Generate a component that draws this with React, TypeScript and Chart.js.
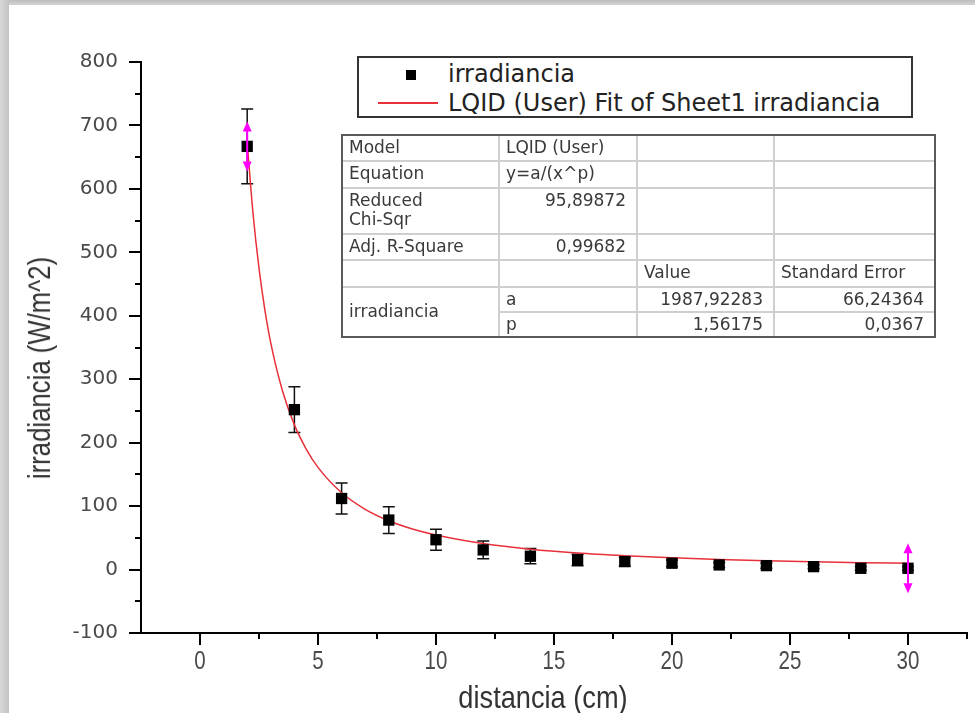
import React, { useEffect, useRef } from "react";
import { Chart, registerables } from "chart.js";
Chart.register(...registerables);

// ---- data ----
const distancia = [2, 4, 6, 8, 10, 12, 14, 16, 18, 20, 22, 24, 26, 28, 30];
const irradiancia = [667, 252, 112, 78, 47, 31, 21, 15, 12.5, 10, 7.3, 6.2, 4.6, 2, 2];
const errorIrradiancia = [59, 36, 24.5, 21, 16.5, 14, 12, 9, 7, 5, 4, 4, 3, 3, 3];
const fitDistancia = [2, 2.25, 2.5, 2.75, 3, 3.5, 4, 4.5, 5, 6, 7, 8, 9, 10, 12, 14, 16, 18, 20, 22, 24, 26, 28, 30];
const fitIrradiancia = [673, 560, 475, 409, 357, 281, 228, 190, 161, 121, 95, 77, 64, 54.5, 41, 32, 26, 21.8, 18.5, 15.9, 13.9, 12.3, 10.9, 9.8];
const xTickValues = [0, 5, 10, 15, 20, 25, 30];
const xTickLabels = ["0", "5", "10", "15", "20", "25", "30"];
const xMinorValues = [2.5, 7.5, 12.5, 17.5, 22.5, 27.5, 32.5];
const yMinorValues = [-50, 50, 150, 250, 350, 450, 550, 650, 750];
const markedDistancias = [2, 30];

const legendLabels = ["irradiancia", "LQID (User) Fit of Sheet1 irradiancia"];
const xTitle = "distancia (cm)";
const yTitle = "irradiancia (W/m^2)";

// table text
const tableCells = [
  { r: 0, c: 0, t: "Model", a: "left" },
  { r: 0, c: 1, t: "LQID (User)", a: "left" },
  { r: 1, c: 0, t: "Equation", a: "left" },
  { r: 1, c: 1, t: "y=a/(x^p)", a: "left" },
  { r: 2, c: 0, t: "Reduced\nChi-Sqr", a: "left" },
  { r: 2, c: 1, t: "95,89872", a: "right" },
  { r: 3, c: 0, t: "Adj. R-Square", a: "left" },
  { r: 3, c: 1, t: "0,99682", a: "right" },
  { r: 4, c: 2, t: "Value", a: "left" },
  { r: 4, c: 3, t: "Standard Error", a: "left" },
  { r: 5, c: 0, t: "irradiancia", a: "left", span: 2 },
  { r: 5, c: 1, t: "a", a: "left" },
  { r: 5, c: 2, t: "1987,92283", a: "right" },
  { r: 5, c: 3, t: "66,24364", a: "right" },
  { r: 6, c: 1, t: "p", a: "left" },
  { r: 6, c: 2, t: "1,56175", a: "right" },
  { r: 6, c: 3, t: "0,0367", a: "right" },
];
const colEdges = [342, 499, 637, 774, 935];
const rowEdges = [135, 161, 187.7, 234, 260, 286.7, 311.7, 336.7];

const ARIAL = "'Liberation Sans', Arial, sans-serif";
const WIDE = "'DejaVu Sans', 'Liberation Sans', Arial, sans-serif";
const RED = "#e8303a";

const errorBarsPlugin = {
  id: "errorBars",
  beforeDatasetsDraw(chart: any) {
    const { ctx, scales } = chart;
    const x = scales.x, y = scales.y;
    ctx.save();
    ctx.strokeStyle = "#111";
    ctx.lineWidth = 1.5;
    distancia.forEach((d, i) => {
      const px = x.getPixelForValue(d);
      const top = y.getPixelForValue(irradiancia[i] + errorIrradiancia[i]);
      const bot = y.getPixelForValue(irradiancia[i] - errorIrradiancia[i]);
      ctx.beginPath();
      ctx.moveTo(px, top); ctx.lineTo(px, bot);
      ctx.moveTo(px - 6, top); ctx.lineTo(px + 6, top);
      ctx.moveTo(px - 6, bot); ctx.lineTo(px + 6, bot);
      ctx.stroke();
    });
    ctx.restore();
  },
  afterDatasetsDraw(chart: any) {
    const { ctx, scales } = chart;
    const x = scales.x, y = scales.y;
    ctx.save();
    ctx.strokeStyle = "#ff00ff";
    ctx.fillStyle = "#ff00ff";
    ctx.lineWidth = 2;
    markedDistancias.forEach((d) => {
      const i = distancia.indexOf(d);
      const px = x.getPixelForValue(d);
      const py = y.getPixelForValue(irradiancia[i]);
      ctx.beginPath();
      ctx.moveTo(px, py - 16); ctx.lineTo(px, py + 16);
      ctx.stroke();
      ctx.beginPath();
      ctx.moveTo(px, py - 25); ctx.lineTo(px - 4.5, py - 15); ctx.lineTo(px + 4.5, py - 15); ctx.closePath();
      ctx.moveTo(px, py + 25); ctx.lineTo(px - 4.5, py + 15); ctx.lineTo(px + 4.5, py + 15); ctx.closePath();
      ctx.fill();
    });
    ctx.restore();
  },
  afterDraw(chart: any) {
    const { ctx, scales, chartArea } = chart;
    const x = scales.x, y = scales.y;
    ctx.save();
    ctx.strokeStyle = "#000";
    ctx.lineWidth = 2;
    ctx.beginPath();
    yMinorValues.forEach((v) => {
      const py = Math.round(y.getPixelForValue(v));
      ctx.moveTo(chartArea.left - 6, py); ctx.lineTo(chartArea.left, py);
    });
    xMinorValues.forEach((v) => {
      const px = Math.round(x.getPixelForValue(v));
      ctx.moveTo(px, chartArea.bottom); ctx.lineTo(px, chartArea.bottom + 6);
    });
    ctx.stroke();
    // narrow x tick labels
    ctx.fillStyle = "#4a4a4a";
    ctx.font = "25px " + ARIAL;
    ctx.textAlign = "center";
    ctx.textBaseline = "middle";
    xTickValues.forEach((v, i) => {
      const px = x.getPixelForValue(v);
      ctx.save();
      ctx.translate(px, chartArea.bottom + 29);
      ctx.scale(0.82, 1);
      ctx.fillText(xTickLabels[i], 0, 0);
      ctx.restore();
    });
    ctx.restore();
  },
};

function ChartCanvas() {
  const ref = useRef<HTMLCanvasElement | null>(null);
  useEffect(() => {
    if (!ref.current) return;
    const chart = new Chart(ref.current, {
      type: "scatter",
      data: {
        datasets: [
          {
            label: legendLabels[0],
            data: distancia.map((d, i) => ({ x: d, y: irradiancia[i] })),
            pointStyle: "rect",
            pointRadius: 8,
            backgroundColor: "#000",
            borderWidth: 0,
            order: 0,
          },
          {
            label: legendLabels[1],
            data: fitDistancia.map((d, i) => ({ x: d, y: fitIrradiancia[i] })),
            showLine: true,
            borderColor: RED,
            borderWidth: 1.5,
            pointRadius: 0,
            cubicInterpolationMode: "monotone",
            order: 1,
          } as any,
        ],
      },
      options: {
        animation: false,
        responsive: false,
        devicePixelRatio: 1,
        layout: { padding: { top: 62, right: 5, left: 0, bottom: 0 } },
        plugins: { legend: { display: false }, tooltip: { enabled: false } },
        scales: {
          x: {
            type: "linear",
            min: -2.5,
            max: 32.5,
            afterFit: (s: any) => { s.height = 80; },
            afterBuildTicks: (s: any) => { s.ticks = xTickValues.map((v) => ({ value: v })); },
            grid: { drawOnChartArea: false, drawTicks: true, tickLength: 12, color: "#000", lineWidth: 2 },
            border: { display: true, color: "#000", width: 2 },
            ticks: { display: false },
          },
          y: {
            type: "linear",
            min: -100,
            max: 800,
            afterFit: (s: any) => { s.width = 141; },
            grid: { drawOnChartArea: false, drawTicks: true, tickLength: 12, color: "#000", lineWidth: 2 },
            border: { display: true, color: "#000", width: 2 },
            ticks: { stepSize: 100, color: "#4a4a4a", font: { family: WIDE, size: 20 }, padding: 11 },
          },
        },
      },
      plugins: [errorBarsPlugin],
    });
    return () => chart.destroy();
  }, []);
  return <canvas ref={ref} width={975} height={713} style={{ position: "absolute", left: 0, top: 0, width: 975, height: 713 }} />;
}

function StatsTable() {
  const left = colEdges[0], top = rowEdges[0];
  const W = colEdges[4] - left, H = rowEdges[7] - top;
  const lines: any[] = [];
  rowEdges.slice(1, -1).forEach((ry, k) => {
    const rowIdx = k + 1;
    const startX = rowIdx === 6 ? colEdges[1] : left;
    lines.push(<div key={"h" + k} style={{ position: "absolute", left: startX - left, top: ry - top - 1, width: colEdges[4] - startX, height: 2, background: "#cfcfcf" }} />);
  });
  colEdges.slice(1, -1).forEach((cx, k) => {
    lines.push(<div key={"v" + k} style={{ position: "absolute", left: cx - left - 1, top: 0, width: 2, height: H, background: "#cfcfcf" }} />);
  });
  const cells = tableCells.map((c, k) => {
    const x0 = colEdges[c.c], x1 = colEdges[c.c + 1];
    const y0 = rowEdges[c.r], y1 = rowEdges[c.r + (c.span || 1)];
    const centered = !!c.span;
    return (
      <div key={"c" + k} style={{
        position: "absolute", left: x0 - left, top: y0 - top, width: x1 - x0, height: y1 - y0,
        boxSizing: "border-box", padding: c.a === "left" ? "3px 0 0 7px" : "3px 11px 0 0",
        textAlign: c.a as any, whiteSpace: "pre", lineHeight: "19px",
        display: centered ? "flex" : "block", alignItems: centered ? "center" : undefined,
        paddingTop: centered ? 0 : 3,
      }}>{c.t}</div>
    );
  });
  return (
    <div style={{ position: "absolute", left, top, width: W, height: H, boxSizing: "border-box",
      fontFamily: WIDE, fontSize: 17, color: "#3a3a3a" }}>
      {lines}
      {cells}
      <div style={{ position: "absolute", left: -1, top: -1, width: W + 2, height: H + 2, boxSizing: "border-box", border: "2px solid #5a5a5a" }} />
    </div>
  );
}

function Legend() {
  return (
    <div style={{ position: "absolute", left: 357, top: 56, width: 556, height: 62, boxSizing: "border-box",
      border: "2px solid #333", background: "#fff", fontFamily: WIDE, fontSize: 24, color: "#222" }}>
      <div style={{ position: "absolute", left: 47, top: 12, width: 10, height: 10, background: "#000" }} />
      <div style={{ position: "absolute", left: 89, top: 1, lineHeight: "30px", whiteSpace: "nowrap" }}>{legendLabels[0]}</div>
      <div style={{ position: "absolute", left: 19, top: 44, width: 60, height: 2, background: RED }} />
      <div style={{ position: "absolute", left: 89, top: 30, lineHeight: "30px", whiteSpace: "nowrap" }}>{legendLabels[1]}</div>
    </div>
  );
}

export default function App() {
  return (
    <div style={{ position: "fixed", left: 0, top: 0, width: 975, height: 713, overflow: "hidden", background: "#fff" }}>
      <div style={{ position: "absolute", left: 0, top: 0, width: 975, height: 5, background: "linear-gradient(#bdbdbd,#d4d4d4)" }} />
      <div style={{ position: "absolute", left: 0, top: 0, width: 9, height: 713, background: "linear-gradient(90deg,#d8d8d8,#c2c2c2)" }} />
      <ChartCanvas />
      <Legend />
      <StatsTable />
      <div style={{ position: "absolute", left: 543, top: 697, transform: "translate(-50%,-50%) scaleX(0.85)", whiteSpace: "nowrap",
        fontFamily: ARIAL, fontSize: 32, color: "#333" }}>{xTitle}</div>
      <div style={{ position: "absolute", left: 40, top: 368, transform: "translate(-50%,-50%) rotate(-90deg) scaleX(0.83)", whiteSpace: "nowrap",
        fontFamily: ARIAL, fontSize: 31, color: "#333" }}>{yTitle}</div>
    </div>
  );
}
